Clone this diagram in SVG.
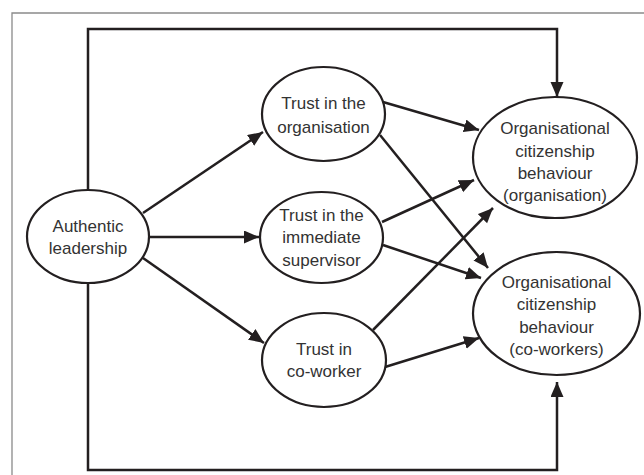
<svg xmlns="http://www.w3.org/2000/svg" width="644" height="475" viewBox="0 0 644 475">
<style>
.node ellipse{fill:#fff;stroke:#231f20;stroke-width:2.2}
.node text{font-family:"Liberation Sans",Arial,sans-serif;font-size:17px;fill:#333;text-anchor:middle}
.conn path{fill:none;stroke:#231f20;stroke-width:2.5;marker-end:url(#ah)}
</style>
<defs>
<marker id="ah" markerUnits="userSpaceOnUse" markerWidth="16" markerHeight="14" refX="15" refY="6.5" orient="auto">
<path d="M0,0 L15,6.5 L0,13 z" fill="#231f20"/>
</marker>
</defs>
<rect width="644" height="475" fill="#fff"/>
<path d="M12,480 V13 H650" fill="none" stroke="#8a8a8a" stroke-width="1.3"/>
<g class="conn" id="connectors">
<path d="M88,190 V29 H557 V97"/>
<path d="M88,283 V470 H557 V382"/>
<path d="M143,213 L263,132"/>
<path d="M150,237 L259,237"/>
<path d="M143,258 L264,343"/>
<path d="M383,102 L479,130"/>
<path d="M380,135 L488,268"/>
<path d="M382,222 L474,180"/>
<path d="M383,245 L481,278"/>
<path d="M373,330 L493,208"/>
<path d="M385,367 L479,338"/>
</g>
<g class="node" id="authentic">
<ellipse cx="88" cy="236.5" rx="61" ry="46.5"/>
<text x="88" y="232">Authentic</text>
<text x="88" y="254">leadership</text>
</g>
<g class="node" id="trust-org">
<ellipse cx="323.5" cy="114" rx="61.5" ry="47"/>
<text x="323.5" y="109">Trust in the</text>
<text x="323.5" y="133">organisation</text>
</g>
<g class="node" id="trust-sup">
<ellipse cx="321.5" cy="237.5" rx="61.5" ry="45.5"/>
<text x="321.5" y="221">Trust in the</text>
<text x="321.5" y="243">immediate</text>
<text x="321.5" y="266">supervisor</text>
</g>
<g class="node" id="trust-cow">
<ellipse cx="324" cy="360" rx="62" ry="47"/>
<text x="324" y="355">Trust in</text>
<text x="324" y="377">co-worker</text>
</g>
<g class="node" id="ocb-org">
<ellipse cx="555" cy="157.5" rx="82" ry="60.5"/>
<text x="555" y="134">Organisational</text>
<text x="555" y="157">citizenship</text>
<text x="555" y="179">behaviour</text>
<text x="555" y="201">(organisation)</text>
</g>
<g class="node" id="ocb-cw">
<ellipse cx="556.5" cy="313.5" rx="83.5" ry="61.5"/>
<text x="556.5" y="288">Organisational</text>
<text x="556.5" y="310">citizenship</text>
<text x="556.5" y="333">behaviour</text>
<text x="556.5" y="355">(co-workers)</text>
</g>
</svg>
